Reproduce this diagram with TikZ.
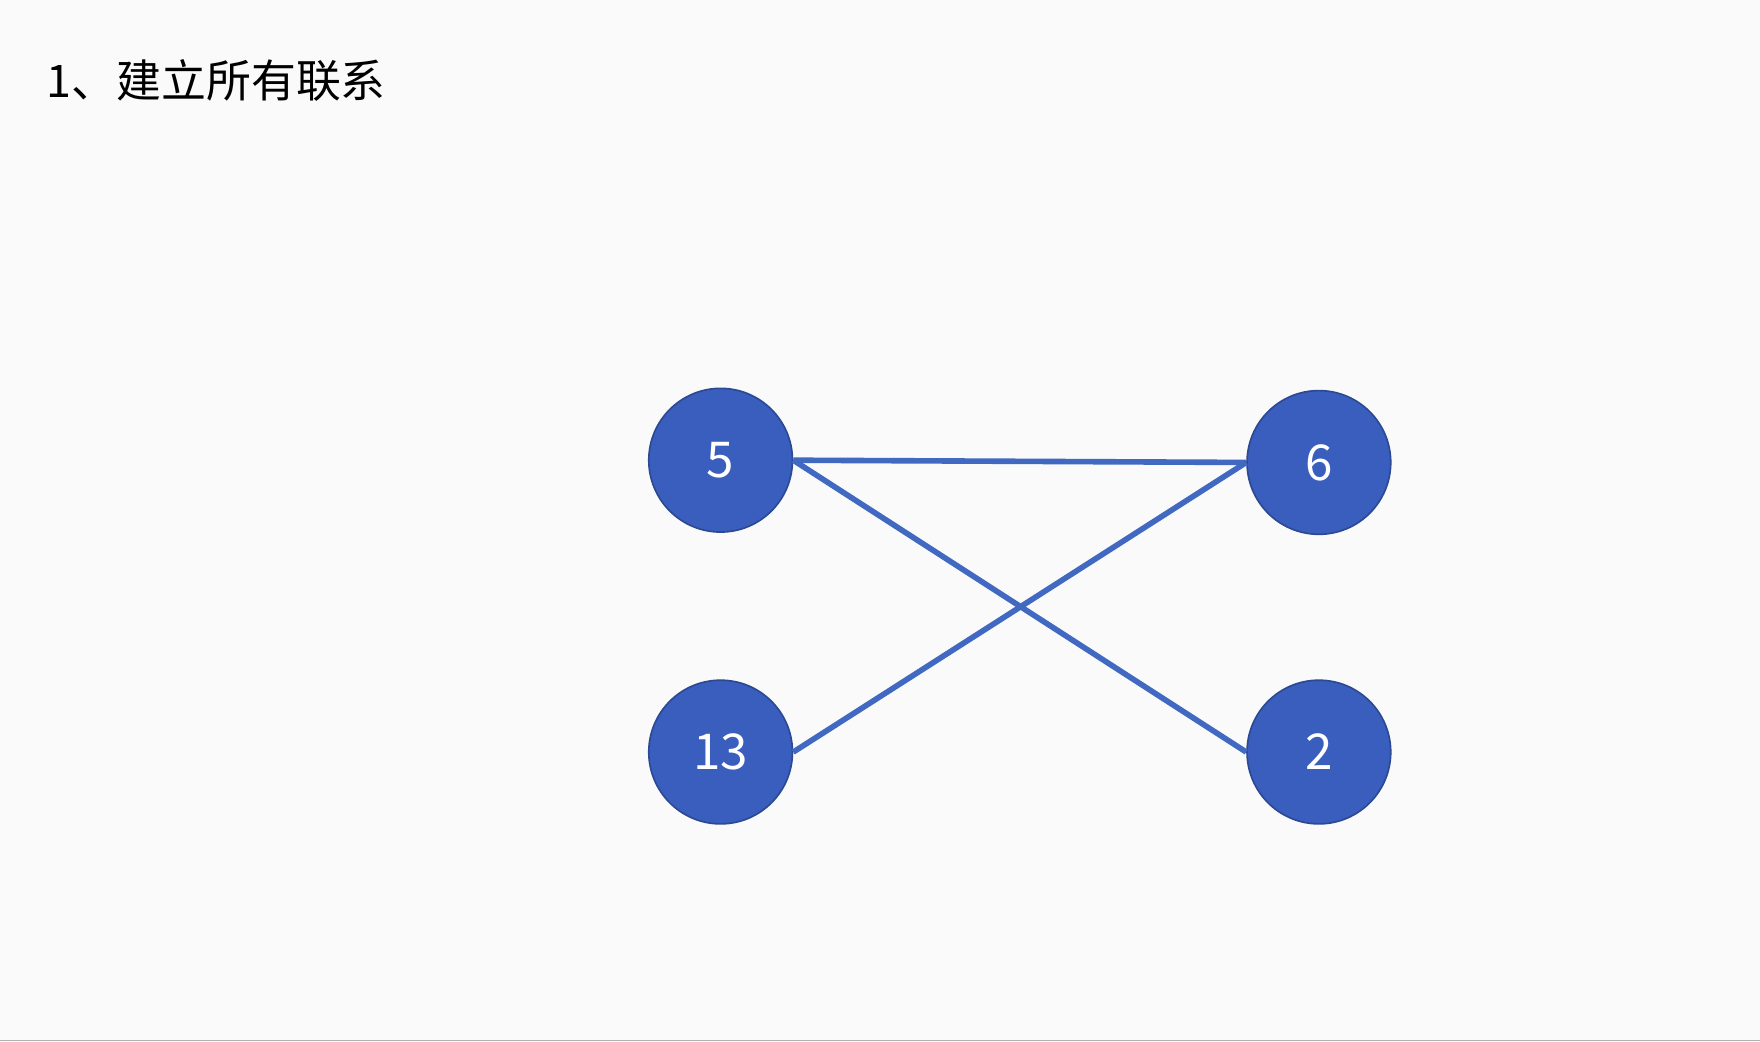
\documentclass[tikz,border=0pt]{standalone}
\usepackage{fontspec}
\newfontfamily\cjk{Noto Sans CJK SC}
\setmainfont{Noto Sans CJK SC}
\definecolor{bg}{HTML}{FAFAFA}
\definecolor{nodefill}{HTML}{3A5EBE}
\definecolor{nodeline}{HTML}{2C4A94}
\definecolor{edge}{HTML}{4169C1}
\begin{document}
\begin{tikzpicture}[x=1pt,y=-1pt,
  vert/.style={circle,fill=nodefill,draw=nodeline,line width=1.5pt,minimum size=128pt,inner sep=0pt,text=white,font=\fontsize{44}{44}\selectfont},
  link/.style={edge,line width=5pt}]
\fill[bg] (0,0) rectangle (1568,928);
\useasboundingbox (0,0) rectangle (1568,928);
\draw[gray!60,line width=1pt] (0,927) -- (1568,927);
\node[anchor=west,font=\fontsize{40}{40}\selectfont] (title) at (38,72) {1、建立所有联系};
\node[vert] (n5) at (642,410) {5};
\node[vert] (n6) at (1175,412) {6};
\node[vert] (n13) at (642,670) {13};
\node[vert] (n2) at (1175,670) {2};
\draw[link] (n5.east) -- (n6.west);
\draw[link] (n5.east) -- (n2.west);
\draw[link] (n13.east) -- (n6.west);
\end{tikzpicture}
\end{document}
